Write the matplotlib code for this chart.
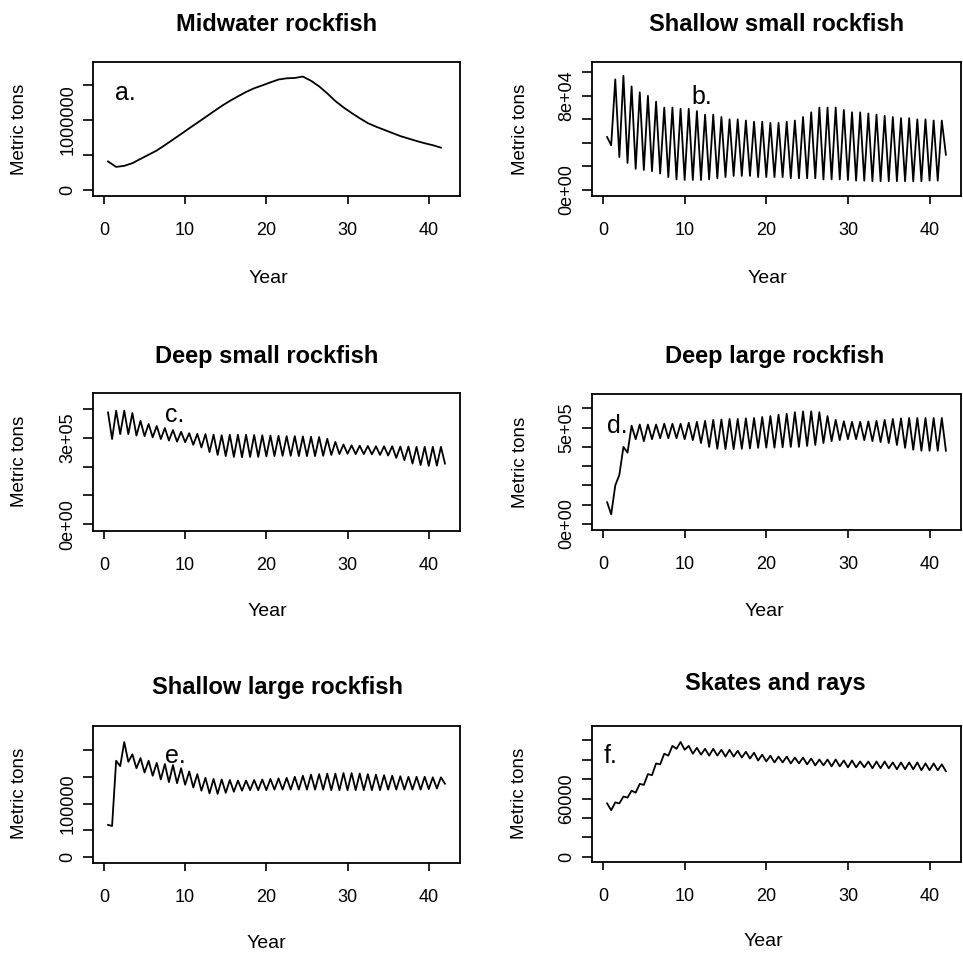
import numpy as np
import matplotlib.pyplot as plt

plt.rcParams['font.family'] = ['Liberation Sans', 'DejaVu Sans']

# time axis: half-year steps from 0.5 to 42, panel a read once a year
years = np.arange(1, 85) * 0.5
years_a = np.arange(42) + 0.5

# biomass, thousands of metric tons
midwater = [408, 330, 345, 383, 444, 504, 564, 641, 720, 800,
            881, 960, 1040, 1121, 1200, 1272, 1337, 1400, 1453, 1494,
            1537, 1578, 1595, 1600, 1620, 1560, 1480, 1380, 1270, 1180,
            1100, 1025, 955, 905, 860, 815, 770, 735, 700, 668,
            640, 605]

shallow_small = [45, 38, 94, 28, 97, 23, 88, 18, 83, 17,
                 80, 16, 75, 14, 70, 11, 70, 9, 69, 8.5,
                 69, 8.5, 67, 8.5, 64, 9, 64, 10, 62, 11,
                 60, 12, 60, 12, 59, 12, 58, 11, 58, 11,
                 57, 11, 57, 11, 58, 10, 59, 10, 62, 10,
                 66, 10, 70, 9, 70, 9, 70, 9, 68, 8.5,
                 66, 8, 66, 8, 65, 7.5, 64, 7.5, 63, 7.5,
                 62, 7.5, 61, 7.5, 61, 7.5, 60, 7.5, 60, 8,
                 59, 8, 59, 30]

deep_small = [387, 295, 393, 312, 393, 312, 385, 307, 358, 305,
              347, 301, 340, 295, 333, 290, 326, 286, 320, 284,
              315, 275, 313, 266, 312, 250, 310, 240, 308, 236,
              310, 233, 310, 232, 310, 233, 309, 233, 308, 235,
              307, 236, 306, 237, 305, 237, 305, 236, 304, 236,
              303, 236, 302, 237, 296, 240, 285, 243, 276, 244,
              273, 243, 272, 243, 271, 242, 270, 240, 270, 238,
              270, 230, 269, 222, 269, 210, 268, 205, 268, 202,
              268, 203, 268, 210]

deep_large = [113, 50, 200, 255, 400, 370, 510, 440, 516, 430,
              516, 440, 516, 445, 520, 445, 520, 445, 520, 440,
              525, 435, 530, 420, 535, 400, 540, 390, 542, 388,
              545, 388, 545, 390, 548, 392, 550, 395, 555, 396,
              560, 396, 567, 398, 572, 400, 580, 400, 584, 405,
              584, 410, 580, 420, 560, 430, 540, 435, 533, 440,
              530, 440, 530, 435, 532, 430, 535, 425, 540, 420,
              545, 410, 548, 395, 550, 385, 550, 380, 550, 380,
              550, 380, 550, 380]

shallow_large = [60, 58, 180, 170, 215, 178, 192, 166, 185, 158,
                 180, 152, 176, 145, 174, 140, 172, 138, 166, 135,
                 160, 130, 155, 124, 148, 119, 146, 118, 145, 120,
                 144, 122, 143, 124, 143, 125, 144, 125, 145, 125,
                 146, 126, 147, 126, 148, 126, 150, 126, 152, 126,
                 154, 126, 155, 126, 156, 125, 156, 125, 157, 125,
                 157, 125, 156, 125, 155, 125, 154, 125, 153, 126,
                 152, 126, 151, 126, 150, 126, 150, 126, 150, 127,
                 149, 128, 149, 137]

skates = [55, 48, 56, 55, 62, 61, 68, 66, 75, 74,
          85, 84, 96, 95, 106, 104, 114, 111, 118, 110,
          114, 106, 112, 105, 111, 104, 111, 104, 110, 103,
          110, 103, 109, 102, 108, 101, 107, 99, 105, 98,
          104, 97, 103, 97, 103, 96, 102, 96, 102, 95,
          101, 94, 100, 94, 100, 93, 100, 93, 99, 92,
          99, 92, 98, 92, 98, 91, 98, 91, 98, 91,
          97, 90, 97, 90, 97, 90, 97, 89, 96, 89,
          96, 89, 95, 88]

titles = ['Midwater rockfish', 'Shallow small rockfish', 'Deep small rockfish',
          'Deep large rockfish', 'Shallow large rockfish', 'Skates and rays']
letters = ['a.', 'b.', 'c.', 'd.', 'e.', 'f.']
xticks = [0, 10, 20, 30, 40]
yticks = [[0, 5e5, 1e6, 1.5e6],
          [0, 2e4, 4e4, 6e4, 8e4, 1e5],
          [0, 1e5, 2e5, 3e5, 4e5],
          [0, 1e5, 2e5, 3e5, 4e5, 5e5, 6e5],
          [0, 5e4, 1e5, 1.5e5, 2e5],
          [0, 2e4, 4e4, 6e4, 8e4, 1e5, 1.2e5]]
ytick_labels = [['0', '', '1000000', ''],
                ['0e+00', '', '', '', '8e+04', ''],
                ['0e+00', '', '', '3e+05', ''],
                ['0e+00', '', '', '', '', '5e+05', ''],
                ['0', '', '100000', '', ''],
                ['0', '', '', '60000', '', '', '']]

series = [(years_a, midwater), (years, shallow_small), (years, deep_small),
          (years, deep_large), (years, shallow_large), (years, skates)]

# layout in pixels of the 963x957 picture
W, H = 963, 957
boxes = [(93, 62, 460, 196), (592, 62, 961, 196),
         (93, 393, 460, 531), (592, 394, 961, 530),
         (93, 726, 460, 863), (592, 726, 961, 862)]
ylims = [(-85500, 1828000), (-5085, 108757), (-23055, 454179),
         (-31125, 674390), (-11250, 245000), (-5143, 134400)]
title_pos = [(277, 31), (777, 31), (267, 363), (775, 363), (277, 694), (775, 690)]
year_pos = [(268, 283), (767, 283), (267, 616), (764, 616), (266, 948), (763, 946)]
ylab_pos = [(20, 129), (520, 129), (20, 461), (520, 462), (20, 793), (519, 793)]
letter_pos = [(115, 100), (691, 104), (165, 422), (607, 433), (165, 763), (604, 763)]


def fx(x):
    return x / W


def fy(y):
    return 1 - y / H


fig = plt.figure(figsize=(W / 100, H / 100), dpi=100)

for i in range(6):
    l, t, r, b = boxes[i]
    ax = fig.add_axes([fx(l), fy(b), (r - l) / W, (b - t) / H])
    x, vals = series[i]
    ax.plot(x, np.array(vals) * 1000, color='black', lw=1.3)
    ax.set_xlim(-1.35, 43.85)
    ax.set_ylim(*ylims[i])
    ax.set_xticks(xticks, [str(v) for v in xticks])
    ax.set_yticks(yticks[i], ytick_labels[i])
    for lbl in ax.get_yticklabels():
        lbl.set_rotation(90)
        lbl.set_va('center')
    ax.tick_params(axis='x', direction='out', length=6, width=1.2, labelsize=13, pad=13)
    ax.tick_params(axis='y', direction='out', length=7, width=1.2, labelsize=13, pad=5)
    for s in ax.spines.values():
        s.set_linewidth(1.3)

    fig.text(fx(title_pos[i][0]), fy(title_pos[i][1]), titles[i], ha='center',
             va='baseline', fontsize=17, fontweight='bold')
    fig.text(fx(year_pos[i][0]), fy(year_pos[i][1]), 'Year', ha='center',
             va='baseline', fontsize=14)
    fig.text(fx(ylab_pos[i][0]), fy(ylab_pos[i][1]), 'Metric tons', ha='center',
             va='center', rotation=90, fontsize=13.5)
    fig.text(fx(letter_pos[i][0]), fy(letter_pos[i][1]), letters[i], ha='left',
             va='baseline', fontsize=18)

fig.savefig('out.png', dpi=100)
